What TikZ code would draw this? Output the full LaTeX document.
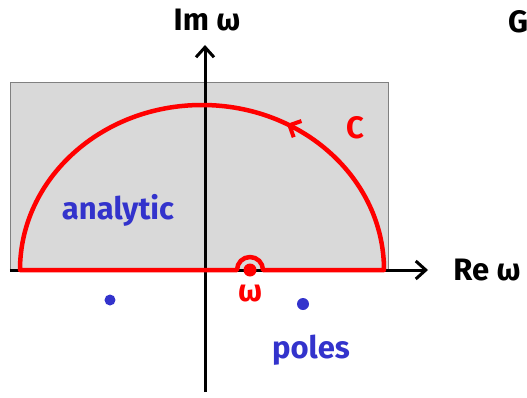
\documentclass[tikz,border=0pt]{standalone}
\usepackage{fontspec}
\setmainfont{Fira Sans}
\usetikzlibrary{arrows.meta,decorations.markings}
\definecolor{penred}{RGB}{255,0,0}
\definecolor{penblue}{RGB}{51,51,204}
\definecolor{paper}{RGB}{217,217,217}
\tikzset{
  hand/.style={font=\fontsize{31}{36}\selectfont\bfseries},
  axis/.style={line width=3pt, -{Straight Barb[length=10pt,width=18pt,line width=3pt]}},
}

\begin{document}
\begin{tikzpicture}[x=1pt,y=1pt]
            \useasboundingbox (-205,-127) rectangle (322,270);
            \fill[paper, draw=gray] (-195,0) rectangle (183,188);

            % axes
            \draw[axis] (-195,0) -- (223,0);
            \draw[axis] (0,-122) -- (0,225);

            % contour C, closed round the upper half plane
            \draw[penred, line width=4.5pt, line join=round,
                decoration={markings, mark=at position 0.61 with {\arrow{Straight Barb[length=9pt,width=18pt,line width=4pt]}}},
                postaction={decorate}]
                (-185,0) -- (32,0) arc (180:0:13) -- (179,0)
                arc (0:180:182 and 165) -- cycle;
            \fill[penred] (45,0) circle (6.5);

            % poles
            \fill[penblue] (-95,-30) circle (5.5);
            \fill[penblue] (98,-34) circle (6);

            \node[hand] (im) at (2,250) {Im ω};
            \node[hand] (re) at (282,0) {Re ω};
            \node[hand] (g) at (313,248) {G};
            \node[hand, penred] (cl) at (150,142) {C};
            \node[hand, penred] (wl) at (45,-24) {ω};
            \node[hand, penblue] (an) at (-87,60) {analytic};
            \node[hand, penblue] (po) at (106,-80) {poles};
        \end{tikzpicture}
\end{document}
